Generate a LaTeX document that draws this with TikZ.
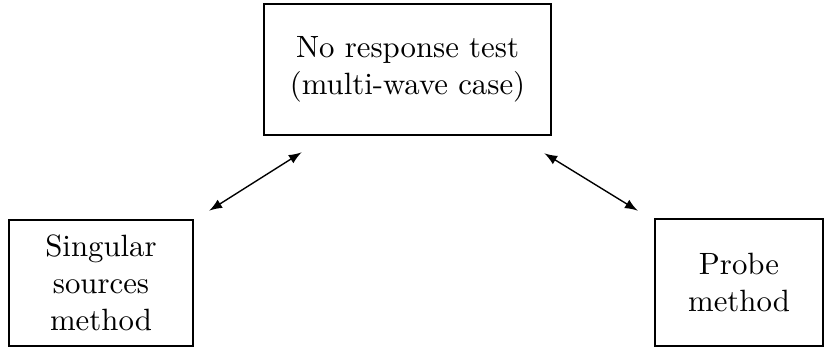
\documentclass[tikz,border=0pt]{standalone}
\usetikzlibrary{calc}
\begin{document}
\begin{tikzpicture}[x=0.3247pt,y=-0.3247pt,
  methodbox/.style={draw, line width=0.9pt, align=center, inner sep=0pt},
  link/.style={latex-latex, line width=0.45pt}]
\useasboundingbox (0,0) rectangle (825,350);
% the three boxes
\node[methodbox, minimum width=93.2pt, minimum height=42.5pt] (nrt) at (407.5,69.5)
  {No response test\\(multi-wave case)};
\node[methodbox, minimum width=59.7pt, minimum height=40.9pt] (ssm) at (101,283)
  {Singular\\sources\\method};
\node[methodbox, minimum width=54.5pt, minimum height=41.2pt] (pm) at (739,282.5)
  {Probe\\method};
% free ends of the double arrows, set off from the box corners
\coordinate (nrtL) at ($(nrt.south west)+(39,16)$);
\coordinate (nrtR) at ($(nrt.south east)+(-8,17)$);
\coordinate (ssmT) at ($(ssm.north east)+(15,-8)$);
\coordinate (pmT)  at ($(pm.north west)+(-16,-7)$);
\draw[link] (ssmT) -- (nrtL);
\draw[link] (nrtR) -- (pmT);
\end{tikzpicture}
\end{document}
